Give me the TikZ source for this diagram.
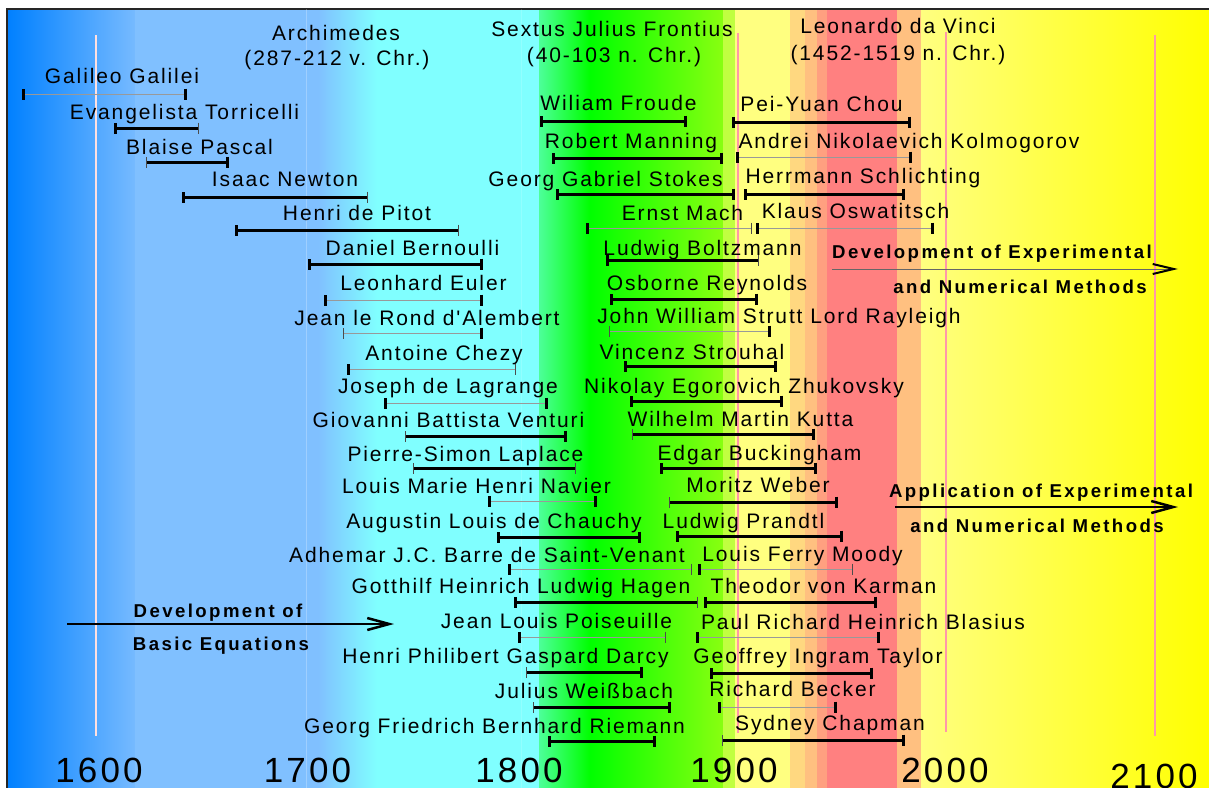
\documentclass[tikz,border=0pt]{standalone}
\usepackage{fontspec}
\setmainfont{Liberation Sans}
\newfontfamily\namefont[LetterSpace=9]{Liberation Sans}
\newfontfamily\phasefont[LetterSpace=13]{Liberation Sans}
\usetikzlibrary{arrows.meta}

\definecolor{skyA}{HTML}{0080FF}
\definecolor{skyB}{HTML}{76BAFF}
\definecolor{skyC}{HTML}{80C0FF}
\definecolor{aqua}{HTML}{80FFFF}
\definecolor{grass}{HTML}{00FF00}
\definecolor{lime}{HTML}{88FF10}
\definecolor{limepale}{HTML}{C0FF40}
\definecolor{paleyel}{HTML}{FFFF80}
\definecolor{peachA}{HTML}{FFD880}
\definecolor{peachB}{HTML}{FFC080}
\definecolor{peachC}{HTML}{FFA080}
\definecolor{salmon}{HTML}{FF8080}
\definecolor{sunny}{HTML}{FFFF00}
\definecolor{epochpink}{HTML}{FF98A8}
\definecolor{epochpale}{HTML}{FFE0E0}

\tikzset{
    tk/.tip={Bar[width=11pt 0 0, line width=3pt 0 1, color=black]},
    tn/.tip={Bar[width=11pt 0 0, line width=0.8pt 0 1, color=black!70]},
}

\begin{document}
\begin{tikzpicture}[
    x=1pt, y=-1pt,
    who/.style={font=\namefont\fontsize{21}{26}\selectfont, anchor=base, inner sep=0pt},
    phaselabel/.style={font=\phasefont\bfseries\fontsize{18.6}{23}\selectfont, anchor=base, inner sep=0pt},
    yearlabel/.style={font=\namefont\fontsize{35}{40}\selectfont, anchor=base, inner sep=0pt},
    life/.style={line width=3pt, black},
    lifethin/.style={line width=0.8pt, black!40},
    epoch/.style={line width=2pt, epochpink},
    trend/.style={line width=2.6pt, -{Straight Barb[length=22pt, width=12pt, line width=2.5pt 0 1]}},
    trendthin/.style={line width=0.8pt, black!60, -{Straight Barb[length=21pt, width=10pt, line width=2pt 0 1, color=black]}}
]

\useasboundingbox (0,0) rectangle (1209,787);
\clip (0,0) rectangle (1209,787);

% --- Hintergrund: Epochen ---
\shade[left color=skyA, right color=skyB] (7,9) rectangle (135,800);
\fill[skyC] (135,9) rectangle (318,800);
\shade[left color=skyC, right color=aqua] (318,9) rectangle (377,800);
\fill[aqua] (377,9) rectangle (539,800);
\shade[left color=aqua!60!grass, right color=grass] (539,9) rectangle (590,800);
\shade[left color=grass, right color=lime] (590,9) rectangle (723,800);
\fill[limepale] (723,9) rectangle (735,800);
\fill[paleyel] (735,9) rectangle (790,800);
\fill[peachA] (790,9) rectangle (805,800);
\fill[peachB] (805,9) rectangle (817,800);
\fill[peachC] (817,9) rectangle (827,800);
\fill[salmon] (827,9) rectangle (897,800);
\fill[peachB] (897,9) rectangle (921,800);
\shade[left color=paleyel, right color=sunny] (921,9) rectangle (1209,800);
\draw[line width=1.5pt, black!85] (7,795) -- (7,9) -- (1215,9);

% --- Jahrhundertlinien ---
\draw[white, opacity=0.25, line width=1pt] (306,9) -- (306,800);
\draw[white, opacity=0.15, line width=1pt] (521,9) -- (521,800);
\draw[line width=2pt, epochpale] (96,35) -- (96,736);
\draw[epoch] (738,33) -- (738,733);
\draw[epoch] (946,32) -- (946,732);
\draw[epoch] (1155,35) -- (1155,736);

% --- Antike und Renaissance ---
\node[who] (archimedes) at (336,40) {Archimedes};
\node[who] (archimedesdates) at (337,65) {(287-212 v. Chr.)};
\node[who] (frontius) at (612,36) {Sextus Julius Frontius};
\node[who] (frontiusdates) at (614,62) {(40-103 n. Chr.)};
\node[who] (davinci) at (898,33) {Leonardo da Vinci};
\node[who] (davincidates) at (898,60) {(1452-1519 n. Chr.)};

% --- Grundgleichungen ---
\node[who] (galilei) at (122,83) {Galileo Galilei};
\draw[lifethin, tk-tk] (22,94) -- (187,94);
\node[who] (torricelli) at (184.5,119) {Evangelista Torricelli};
\draw[life, tk-tn] (114,128) -- (199,128);
\node[who] (pascal) at (199.5,154) {Blaise Pascal};
\draw[life, tn-tk] (146,162) -- (229,162);
\node[who] (newton) at (285,186) {Isaac Newton};
\draw[life, tk-tn] (182,197) -- (368,197);
\node[who] (pitot) at (357,220) {Henri de Pitot};
\draw[life, tk-tn] (235,230) -- (459,230);
\node[who] (bernoulli) at (412.5,255) {Daniel Bernoulli};
\draw[life, tk-tk] (308,264) -- (483,264);
\node[who] (euler) at (423.5,290) {Leonhard Euler};
\draw[lifethin, tk-tk] (324,300) -- (483,300);
\node[who] (alembert) at (427,325) {Jean le Rond d'Alembert};
\draw[lifethin, tn-tk] (343,333) -- (483,333);
\node[who] (chezy) at (444,360) {Antoine Chezy};
\draw[lifethin, tk-tn] (347,369) -- (516,369);
\node[who] (lagrange) at (448,393) {Joseph de Lagrange};
\draw[lifethin, tk-tk] (384,403) -- (548,403);
\node[who] (venturi) at (448.5,427) {Giovanni Battista Venturi};
\draw[life, tn-tk] (405,436) -- (567,436);
\node[who] (laplace) at (465.5,461) {Pierre-Simon Laplace};
\draw[life, tn-tn] (413,468) -- (576,468);
\node[who] (navier) at (476.5,493) {Louis Marie Henri Navier};
\draw[lifethin, tk-tk] (488,501) -- (597,501);
\node[who] (cauchy) at (494,528) {Augustin Louis de Chauchy};
\draw[life, tk-tk] (497,537) -- (641,537);
\node[who] (venant) at (487,562) {Adhemar J.C. Barre de Saint-Venant};
\draw[lifethin, tk-tn] (508,569) -- (692,569);
\node[who] (hagen) at (521,593) {Gotthilf Heinrich Ludwig Hagen};
\draw[life, tk-tn] (514,602) -- (698,602);
\node[who] (poiseuille) at (556.5,628) {Jean Louis Poiseuille};
\draw[lifethin, tk-tn] (518,637) -- (666,637);
\node[who] (darcy) at (505.5,663) {Henri Philibert Gaspard Darcy};
\draw[life, tn-tk] (526,672) -- (643,672);
\node[who] (weissbach) at (584,698) {Julius Weißbach};
\draw[life, tn-tk] (533,707) -- (671,707);
\node[who] (riemann) at (494.5,733) {Georg Friedrich Bernhard Riemann};
\draw[life, tk-tk] (548,741) -- (656,741);

% --- 19. Jahrhundert ---
\node[who] (froude) at (618.5,110) {Wiliam Froude};
\draw[life, tk-tk] (540,121) -- (687,121);
\node[who] (manning) at (631,148) {Robert Manning};
\draw[life, tk-tk] (552,158) -- (723,158);
\node[who] (stokes) at (605.5,186) {Georg Gabriel Stokes};
\draw[life, tk-tk] (556,194) -- (735,194);
\node[who] (mach) at (682.5,220) {Ernst Mach};
\draw[lifethin, tk-tn] (586,228) -- (752,228);
\node[who] (boltzmann) at (702.5,255) {Ludwig Boltzmann};
\draw[life, tk-tn] (606,260) -- (759,260);
\node[who] (reynolds) at (707,290) {Osborne Reynolds};
\draw[life, tk-tk] (610,299) -- (758,299);
\node[who] (rayleigh) at (779,323) {John William Strutt Lord Rayleigh};
\draw[lifethin, tn-tk] (609,331) -- (771,331);
\node[who] (strouhal) at (692,359) {Vincenz Strouhal};
\draw[life, tk-tk] (624,366) -- (777,366);
\node[who] (zhukovsky) at (744,393) {Nikolay Egorovich Zhukovsky};
\draw[life, tk-tk] (630,401) -- (783,401);
\node[who] (kutta) at (740.5,426) {Wilhelm Martin Kutta};
\draw[life, tn-tk] (632,434) -- (815,434);
\node[who] (buckingham) at (759.5,460) {Edgar Buckingham};
\draw[life, tk-tk] (660,468) -- (817,468);
\node[who] (weber) at (758,492) {Moritz Weber};
\draw[life, tn-tk] (669,502) -- (838,502);
\node[who] (prandtl) at (743.5,528) {Ludwig Prandtl};
\draw[life, tk-tk] (676,536) -- (843,536);
\node[who] (moody) at (802.5,561) {Louis Ferry Moody};
\draw[lifethin, tk-tn] (698,569) -- (853,569);
\node[who] (karman) at (823.5,593) {Theodor von Karman};
\draw[life, tk-tk] (704,602) -- (877,602);
\node[who] (blasius) at (863,629) {Paul Richard Heinrich Blasius};
\draw[lifethin, tk-tk] (696,637) -- (880,637);
\node[who] (taylor) at (818,663) {Geoffrey Ingram Taylor};
\draw[life, tk-tk] (710,673) -- (873,673);
\node[who] (becker) at (792.5,696) {Richard Becker};
\draw[lifethin, tk-tk] (718,707) -- (837,707);
\node[who] (chapman) at (830,730) {Sydney Chapman};
\draw[life, tn-tk] (722,740) -- (905,740);

% --- 20. Jahrhundert ---
\node[who] (chou) at (821.5,111) {Pei-Yuan Chou};
\draw[life, tk-tk] (732,122) -- (911,122);
\node[who] (kolmogorov) at (909,148) {Andrei Nikolaevich Kolmogorov};
\draw[lifethin, tk-tk] (736,157) -- (912,157);
\node[who] (schlichting) at (863,183) {Herrmann Schlichting};
\draw[life, tk-tk] (744,194) -- (905,194);
\node[who] (oswatitsch) at (855.5,218) {Klaus Oswatitsch};
\draw[lifethin, tk-tk] (756,228) -- (934,228);

% --- Entwicklungsphasen ---
\node[phaselabel] (basicA) at (218,617) {Development of};
\node[phaselabel] (basicB) at (221,650) {Basic Equations};
\coordinate (basicstart) at (67,624);
\coordinate (basicend) at (394,624);
\draw[trend] (basicstart) -- (basicend);

\node[phaselabel] (experimentA) at (992,258) {Development of Experimental};
\node[phaselabel] (experimentB) at (1020,293) {and Numerical Methods};
\coordinate (experimentstart) at (832,269);
\coordinate (experimentend) at (1178,269);
\draw[trendthin] (experimentstart) -- (experimentend);

\node[phaselabel] (applicationA) at (1041,497) {Application of Experimental};
\node[phaselabel] (applicationB) at (1037,532) {and Numerical Methods};
\coordinate (applicationstart) at (895,507);
\coordinate (applicationend) at (1178,507);
\draw[trend] (applicationstart) -- (applicationend);

% --- Zeitachse ---
\node[yearlabel] (y1600) at (99,782) {1600};
\node[yearlabel] (y1700) at (307.5,782) {1700};
\node[yearlabel] (y1800) at (519,782) {1800};
\node[yearlabel] (y1900) at (734,782) {1900};
\node[yearlabel] (y2000) at (945,782) {2000};
\node[yearlabel] (y2100) at (1154,788) {2100};

\end{tikzpicture}
\end{document}
